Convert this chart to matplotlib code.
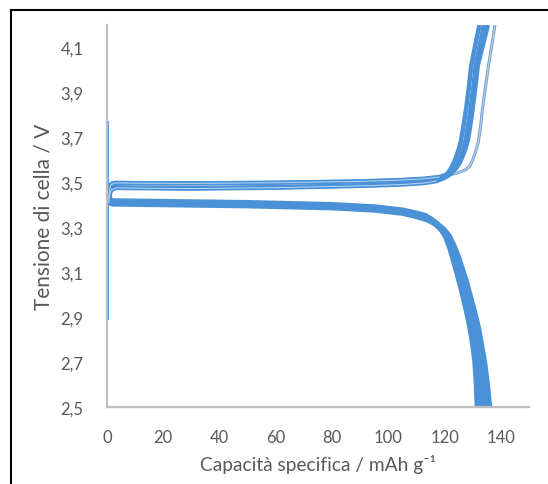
import matplotlib
matplotlib.use('Agg')
import matplotlib.pyplot as plt
from matplotlib.patches import Rectangle

# Galvanostatic charge / discharge cycles (voltage vs specific capacity)

# charge cycles (three overlapping ones making the thick band, plus one longer cycle)
charge_a_cap = [0.6, 0.9, 1.4, 3, 10, 30, 60, 90, 105, 113, 117, 118.5, 120, 121.2, 122.2, 123.2, 124.2,
                125.1, 125.9, 126.7, 127.7, 128.6, 129.5, 130.9, 132.4]
charge_a_v = [3.41, 3.44, 3.465, 3.475, 3.474, 3.472, 3.476, 3.484, 3.49, 3.497, 3.505, 3.513, 3.525, 3.542,
              3.56, 3.585, 3.615, 3.65, 3.69, 3.75, 3.83, 3.92, 4.02, 4.11, 4.2]

charge_b_cap = [0.6, 0.9, 1.4, 3, 10, 30, 60, 90, 105, 113, 117, 119.5, 121, 122.5, 123.7, 124.8, 125.8,
                126.7, 127.5, 128.3, 129.3, 130.2, 131.1, 132.5, 134.0]
charge_b_v = [3.42, 3.46, 3.478, 3.478, 3.476, 3.474, 3.478, 3.486, 3.493, 3.5, 3.508, 3.517, 3.527, 3.542,
              3.56, 3.585, 3.615, 3.65, 3.69, 3.75, 3.83, 3.92, 4.02, 4.11, 4.2]

charge_c_cap = [0.6, 0.9, 1.4, 3, 10, 30, 60, 90, 105, 113, 118, 121, 122.5, 124, 125.3, 126.4, 127.4,
                128.3, 129.1, 130.0, 130.9, 131.8, 133.6, 135.4]
charge_c_v = [3.43, 3.47, 3.49, 3.497, 3.496, 3.495, 3.498, 3.504, 3.51, 3.516, 3.523, 3.535, 3.545, 3.562,
              3.585, 3.615, 3.65, 3.69, 3.75, 3.83, 3.92, 4.02, 4.11, 4.2]

charge_d_cap = [0.6, 1.0, 1.6, 3, 10, 30, 60, 90, 105, 113, 118, 121.5, 124, 126, 127.5, 128.8, 130, 131,
                132, 132.8, 133.5, 134.5, 135.6, 136.8, 137.9]
charge_d_v = [3.44, 3.48, 3.497, 3.5, 3.499, 3.498, 3.5, 3.506, 3.512, 3.518, 3.525, 3.532, 3.54, 3.548,
              3.556, 3.57, 3.6, 3.635, 3.68, 3.75, 3.83, 3.92, 4.02, 4.11, 4.2]

# discharge cycles
discharge_a_cap = [0.4, 0.8, 2, 20, 50, 80, 95, 105, 110, 113, 115, 117, 119, 120.5, 122, 123.3, 124.5,
                   125.6, 126.6, 128, 129.3, 130.3, 131, 131.5, 131.8]
discharge_a_v = [3.45, 3.422, 3.415, 3.412, 3.407, 3.398, 3.388, 3.374, 3.36, 3.35, 3.335, 3.315, 3.29,
                 3.26, 3.21, 3.155, 3.1, 3.05, 3.0, 2.925, 2.848, 2.77, 2.70, 2.6, 2.5]

discharge_b_cap = [0.4, 0.8, 2, 20, 50, 80, 95, 105, 110, 113, 115.5, 117.5, 119.5, 121.2, 122.8, 124.3,
                   125.6, 126.8, 127.9, 129.4, 130.8, 131.8, 132.6, 133.3, 133.8]
discharge_b_v = [3.44, 3.418, 3.411, 3.408, 3.403, 3.394, 3.384, 3.37, 3.356, 3.345, 3.33, 3.31, 3.285,
                 3.25, 3.205, 3.15, 3.1, 3.05, 3.0, 2.925, 2.848, 2.77, 2.70, 2.6, 2.5]

discharge_c_cap = [0.4, 0.8, 2, 20, 50, 80, 95, 105, 110, 114, 117, 119.5, 121.5, 123.2, 124.8, 126.2,
                   127.5, 128.8, 130.4, 131.9, 133, 134, 135, 135.8]
discharge_c_v = [3.43, 3.412, 3.406, 3.403, 3.398, 3.389, 3.379, 3.365, 3.35, 3.335, 3.315, 3.29, 3.26,
                 3.215, 3.165, 3.11, 3.06, 3.0, 2.925, 2.848, 2.77, 2.70, 2.6, 2.5]

# first-cycle start at zero capacity
start_cap = [0.35, 0.35]
start_v = [2.89, 3.77]

x_ticks = [0, 20, 40, 60, 80, 100, 120, 140]
y_ticks = [2.5, 2.7, 2.9, 3.1, 3.3, 3.5, 3.7, 3.9, 4.1]
y_labels = ['2,5', '2,7', '2,9', '3,1', '3,3', '3,5', '3,7', '3,9', '4,1']

blue = '#4b91d7'
grid_grey = '#bfbfbf'
text_grey = '#595959'

plt.rcParams['font.family'] = ['Lato', 'DejaVu Sans']

fig = plt.figure(figsize=(5.48, 4.85), dpi=100)
ax = fig.add_axes([0.1953, 0.1588, 0.770, 0.7876])

ax.plot(start_cap, start_v, color=blue, lw=1.4)

for cap, v in [(discharge_a_cap, discharge_a_v), (discharge_b_cap, discharge_b_v),
               (discharge_c_cap, discharge_c_v)]:
    ax.plot(cap, v, color=blue, lw=4.6, solid_capstyle='butt', solid_joinstyle='round')

ax.plot(charge_d_cap, charge_d_v, color='#7a9fc4', lw=2.2)
ax.plot(charge_d_cap, charge_d_v, color='#b3d3f2', lw=0.8)
for cap, v in [(charge_a_cap, charge_a_v), (charge_b_cap, charge_b_v),
               (charge_c_cap, charge_c_v)]:
    ax.plot(cap, v, color=blue, lw=3.2, solid_capstyle='butt', solid_joinstyle='round')
# lighter cores give the doubled-line look of the reference plateau
ax.plot(charge_a_cap[:11], charge_a_v[:11], color='#b9d7f2', lw=0.7)
ax.plot(charge_c_cap[:11], charge_c_v[:11], color='#b9d7f2', lw=0.7)

ax.set_xlim(0, 150)
ax.set_ylim(2.5, 4.2)
ax.set_xticks(x_ticks)
ax.set_yticks(y_ticks)
ax.set_yticklabels(y_labels)
ax.tick_params(length=0, labelsize=12, colors=text_grey)
ax.tick_params(axis='x', pad=16)
ax.tick_params(axis='y', pad=17)

for side in ['top', 'right']:
    ax.spines[side].set_visible(False)
for side in ['left', 'bottom']:
    ax.spines[side].set_color(grid_grey)
    ax.spines[side].set_linewidth(1.6)

ax.set_xlabel('Capacità specifica / mAh g⁻¹', fontsize=13.8, color=text_grey, labelpad=6)
ax.set_ylabel('Tensione di cella / V', fontsize=15, color=text_grey, labelpad=5)

# black frame around the picture (open on right and bottom, as cropped)
fig.add_artist(Rectangle((10.5 / 548, -0.1), 1.2, 1.1 - 11 / 485, transform=fig.transFigure,
                         fill=False, ec='black', lw=1.5))

fig.savefig('out.png', dpi=100)
